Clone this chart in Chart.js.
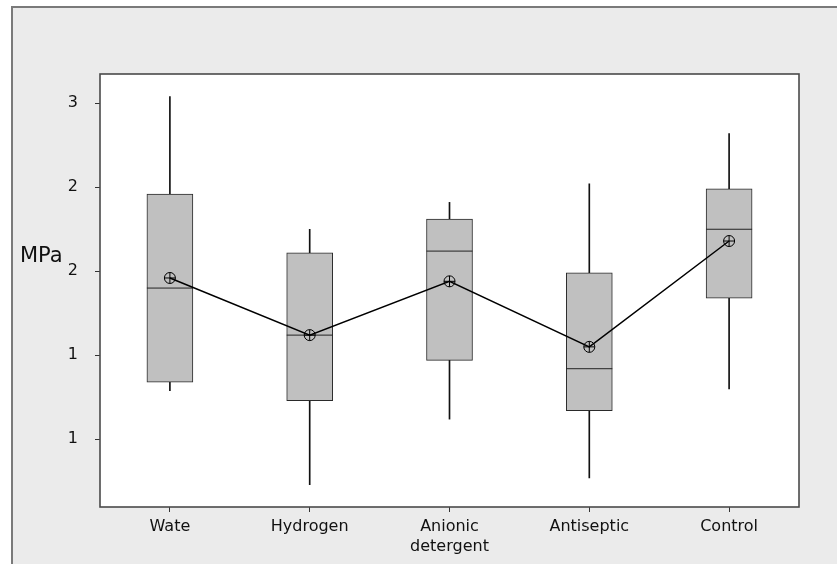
<!DOCTYPE html>
<html>
<head>
<meta charset="utf-8">
<script src="https://cdn.jsdelivr.net/npm/chart.js@4"></script>
<style>
  body { margin: 0; background: #fff; }
  #frame {
    position: absolute; left: 11px; top: 6px; width: 840px; height: 570px;
    background: #ebebeb; border-left: 2px solid #7a7a7a; border-top: 2px solid #7a7a7a;
  }
  #wrap { position: absolute; left: 0; top: 0; width: 837px; height: 564px; }
</style>
</head>
<body>
<div id="frame"></div>
<div id="wrap"><canvas id="chart1"></canvas></div>
<script>
// groups and box plot values (MPa)
const groups = ["Wate", "Hydrogen", ["Anionic", "detergent"], "Antiseptic", "Control"];
const whiskerLow = [1.29, 0.73, 1.12, 0.77, 1.30];
const q1 = [1.34, 1.23, 1.47, 1.17, 1.84];
const medians = [1.90, 1.62, 2.12, 1.42, 2.25];
const q3 = [2.46, 2.11, 2.31, 1.99, 2.49];
const whiskerHigh = [3.04, 2.25, 2.41, 2.52, 2.82];
const means = [1.96, 1.62, 1.94, 1.55, 2.18];

// y axis ticks
const yTickValues = [1, 1.5, 2, 2.5, 3];
const yTickLabels = ["1", "1", "2", "2", "3"];

const font = "'DejaVu Sans', sans-serif";

// white plot area + frame around it, and the MPa label
const plotBox = {
    id: "plotBox",
    beforeDatasetsDraw(chart) {
        const a = chart.chartArea, ctx = chart.ctx;
        ctx.save();
        ctx.fillStyle = "#fff";
        ctx.fillRect(a.left, a.top, a.right - a.left, a.bottom - a.top);
        ctx.restore();
    },
    afterDraw(chart) {
        const a = chart.chartArea, ctx = chart.ctx;
        ctx.save();
        ctx.strokeStyle = "#4a4a4a";
        ctx.lineWidth = 1.6;
        ctx.strokeRect(a.left, a.top, a.right - a.left, a.bottom - a.top);
        ctx.fillStyle = "#111";
        ctx.font = "21px " + font;
        ctx.textBaseline = "alphabetic";
        ctx.fillText("MPa", 20, 262);
        ctx.restore();
    }
};

new Chart("chart1", {
    type: "bar",
    data: {
        labels: groups,
        datasets: [
            {
                label: "whisker",
                data: groups.map((g, i) => [whiskerLow[i], whiskerHigh[i]]),
                backgroundColor: "#111",
                barThickness: 1,
                grouped: false,
                order: 5
            },
            {
                label: "box",
                data: groups.map((g, i) => [q1[i], q3[i]]),
                backgroundColor: "#c0c0c0",
                borderColor: "#2a2a2a",
                borderWidth: 1,
                borderSkipped: false,
                barThickness: 46,
                grouped: false,
                order: 4
            },
            {
                type: "line",
                label: "median",
                data: medians,
                showLine: false,
                pointStyle: "line",
                pointRadius: 23,
                borderColor: "#222",
                borderWidth: 1,
                order: 3
            },
            {
                type: "line",
                label: "mean",
                data: means,
                borderColor: "#000",
                borderWidth: 1.5,
                pointStyle: "circle",
                pointRadius: 5.5,
                pointBorderWidth: 1,
                pointBackgroundColor: "rgba(0,0,0,0)",
                pointBorderColor: "#000",
                order: 2
            },
            {
                type: "line",
                label: "meanCross",
                data: means,
                showLine: false,
                pointStyle: "cross",
                pointRadius: 5.5,
                borderColor: "#000",
                borderWidth: 1,
                order: 1
            }
        ]
    },
    options: {
        responsive: true,
        maintainAspectRatio: false,
        animation: false,
        layout: {padding: {top: 74, right: 38, left: 0, bottom: 0}},
        plugins: {legend: {display: false}, tooltip: {enabled: false}},
        scales: {
            x: {
                offset: true,
                grid: {display: true, offset: false, drawOnChartArea: false, drawTicks: true, tickLength: 5, color: "#333"},
                border: {display: false},
                ticks: {color: "#111", font: {family: font, size: 16, lineHeight: 1.3}, padding: 4, maxRotation: 0, autoSkip: false},
                afterFit(scale) { scale.height = 57; }
            },
            y: {
                min: 0.597,
                max: 3.174,
                afterBuildTicks(scale) { scale.ticks = yTickValues.map(v => ({value: v})); },
                grid: {display: true, drawOnChartArea: false, drawTicks: true, tickLength: 5, color: "#333"},
                border: {display: false},
                ticks: {
                    color: "#111",
                    font: {family: font, size: 16},
                    padding: 17,
                    callback: (v, i) => yTickLabels[i]
                },
                afterFit(scale) { scale.width = 100; }
            }
        }
    },
    plugins: [plotBox]
});
</script>
</body>
</html>
